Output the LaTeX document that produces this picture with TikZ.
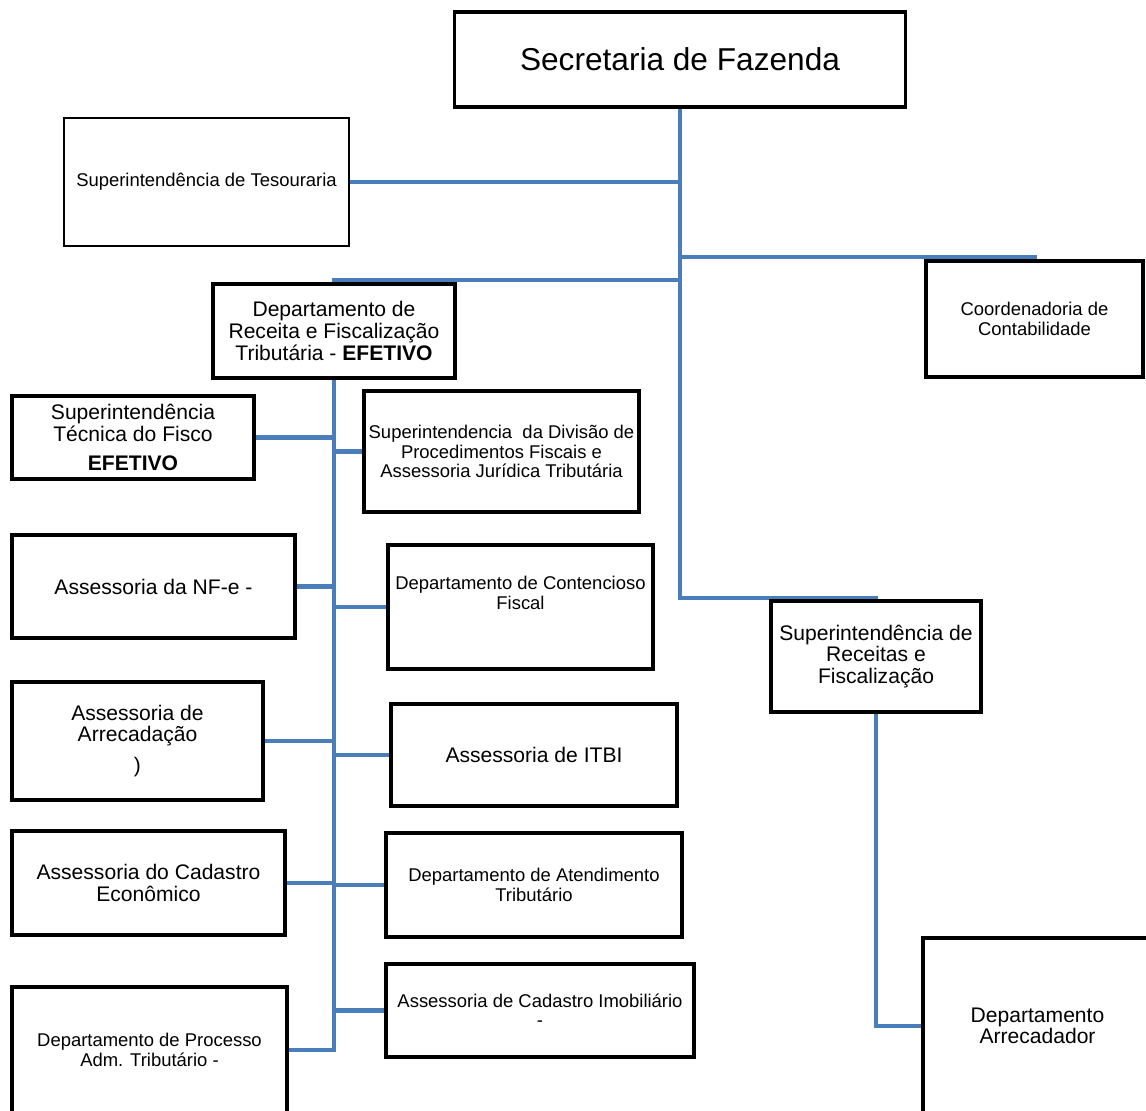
\documentclass[tikz,border=0pt]{standalone}
\usepackage{fontspec}
\setmainfont{Liberation Sans}
\usetikzlibrary{backgrounds}
\definecolor{linkblue}{RGB}{74,126,187}
\begin{document}
\begin{tikzpicture}[x=0.02cm,y=-0.02cm,
  orgbox/.style={draw=black,fill=white,line width=2.6pt,inner sep=0pt,align=center,font=\fontsize{12}{12.3}\selectfont},
  thinbox/.style={orgbox,line width=1.5pt},
  size/.style 2 args={minimum width=#1*0.02cm,minimum height=#2*0.02cm},
  small/.style={font=\fontsize{10.5}{11}\selectfont},
  link/.style={draw=linkblue,line width=2.3pt}]
\useasboundingbox (0,0) rectangle (1146,1111);
\clip (0,0) rectangle (1146,1111);
% top level
\node[thinbox,line width=1.8pt,font=\fontsize{18}{21}\selectfont,size={451}{95}] (sec) at (680,59.5) {Secretaria de Fazenda};
\node[thinbox,small,line width=1.3pt,size={285}{128}] (tes) at (206.5,182) {Superintendência de Tesouraria};
\node[orgbox,size={242}{94}] (dep) at (334,331) {Departamento de\\Receita e Fiscalização\\Tributária - \textbf{EFETIVO}};
\node[orgbox,small,size={217}{116}] (coo) at (1034.5,319) {Coordenadoria de\\Contabilidade};
\node[orgbox,size={210}{111}] (sre) at (876,656.5) {Superintendência de\\Receitas e\\Fiscalização};
\node[orgbox,line width=1.8pt,size={229}{176}] (dar) at (1037.5,1026) {Departamento\\Arrecadador};
% left column
\node[orgbox,size={242}{83}] (stf) at (133,437.5) {Superintendência\\Técnica do Fisco\\[4.5pt]\textbf{EFETIVO}};
\node[orgbox,size={283}{103}] (nfe) at (153.5,586.5) {Assessoria da NF-e -};
\node[orgbox,size={251}{118}] (arr) at (137.5,741) {Assessoria de\\Arrecadação\\[5.5pt])};
\node[orgbox,size={273}{104}] (cec) at (148.5,883) {Assessoria do Cadastro\\Econômico};
\node[orgbox,small,size={275}{126}] (pro) at (149.5,1050) {Departamento de Processo\\Adm. Tributário -};
% right column
\node[orgbox,small,size={275}{121}] (sdp) at (501.5,451.5) {Superintendencia\ \ da Divisão de\\Procedimentos Fiscais e\\Assessoria Jurídica Tributária};
\node[orgbox,small,size={265}{124}] (con) at (520.5,607) {Departamento de Contencioso\\Fiscal\\[5pt]~};
\node[orgbox,size={286}{102}] (itb) at (534,755) {Assessoria de ITBI};
\node[orgbox,small,size={296}{104}] (ate) at (534,885) {Departamento de Atendimento\\Tributário};
\node[orgbox,small,size={308}{93}] (imo) at (540,1010.5) {Assessoria de Cadastro Imobiliário\\-};
% connectors
\begin{scope}[on background layer]
\coordinate (jc) at (680,257);
\coordinate (jd) at (680,280);
\coordinate (jr) at (680,598);
\draw[link] (sec.south) -- (jr) -| (sre.north);
\draw[link] (tes.east) -- (tes.east -| jr);
\draw[link] (jc) -| (coo.north);
\draw[link] (jd) -| (dep.north);
\draw[link] (dep.south) |- (pro.east);
\foreach \b in {stf,nfe,arr,cec}
  \draw[link] (\b.east) -- (\b.east -| dep.south);
\foreach \b in {sdp,con,itb,ate,imo}
  \draw[link] (\b.west) -- (\b.west -| dep.south);
\draw[link] (sre.south) |- (dar.west);
\end{scope}
\end{tikzpicture}
\end{document}
